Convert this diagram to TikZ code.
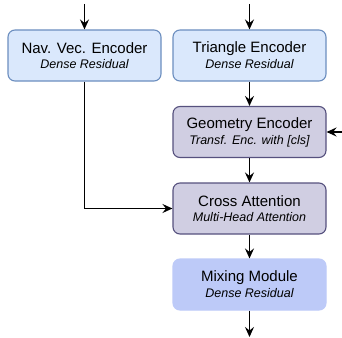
\documentclass[tikz,border=0pt]{standalone}
\usepackage{fontspec}
\setmainfont{Liberation Sans}
\usetikzlibrary{arrows.meta}
\definecolor{bluefill}{HTML}{DAE8FC}
\definecolor{blueline}{HTML}{6C8EBF}
\definecolor{purpfill}{HTML}{D0CEE2}
\definecolor{purpline}{HTML}{56517E}
\definecolor{mixfill}{HTML}{BDCAF8}
\tikzset{
  box/.style={rounded corners=7pt, minimum width=153pt, minimum height=51pt,
    inner sep=0pt, align=center, line width=1.1pt},
  bluebox/.style={box, draw=blueline, fill=bluefill},
  purpbox/.style={box, draw=purpline, fill=purpfill},
  mixbox/.style={box, draw=mixfill, fill=mixfill},
  conn/.style={line width=1.5pt, -{Stealth[length=10pt,width=9pt,inset=3.5pt]}},
}
\newcommand{\ttl}[1]{{\fontsize{15}{17}\selectfont #1}}
\newcommand{\sub}[1]{{\fontsize{12.5}{14}\selectfont\itshape #1}}
\begin{document}
\begin{tikzpicture}[x=1pt,y=-1pt]
\useasboundingbox (0,0) rectangle (342,337);
\node[bluebox] (nav) at (84.5,55.5) {\ttl{Nav. Vec. Encoder}\\[3pt]\sub{Dense Residual}};
\node[bluebox] (tri) at (249.5,55.5) {\ttl{Triangle Encoder}\\[3pt]\sub{Dense Residual}};
\node[purpbox] (geo) at (249.5,132) {\ttl{Geometry Encoder}\\[3pt]\sub{Transf. Enc. with [cls]}};
\node[purpbox] (cross) at (249.5,208.5) {\ttl{Cross Attention}\\[3pt]\sub{Multi-Head Attention}};
\node[mixbox] (mix) at (249.5,284.5) {\ttl{Mixing Module}\\[3pt]\sub{Dense Residual}};
\coordinate (navin) at (84.5,4);
\coordinate (triin) at (249.5,4);
\coordinate (geoin) at (342,132);
\coordinate (out) at (249.5,337);
\draw[conn] (navin) -- (nav.north);
\draw[conn] (triin) -- (tri.north);
\draw[conn] (tri.south) -- (geo.north);
\draw[conn] (geoin) -- (geo.east);
\draw[conn] (geo.south) -- (cross.north);
\draw[conn] (nav.south) |- (cross.west);
\draw[conn] (cross.south) -- (mix.north);
\draw[conn] (mix.south) -- (out);
\end{tikzpicture}
\end{document}
